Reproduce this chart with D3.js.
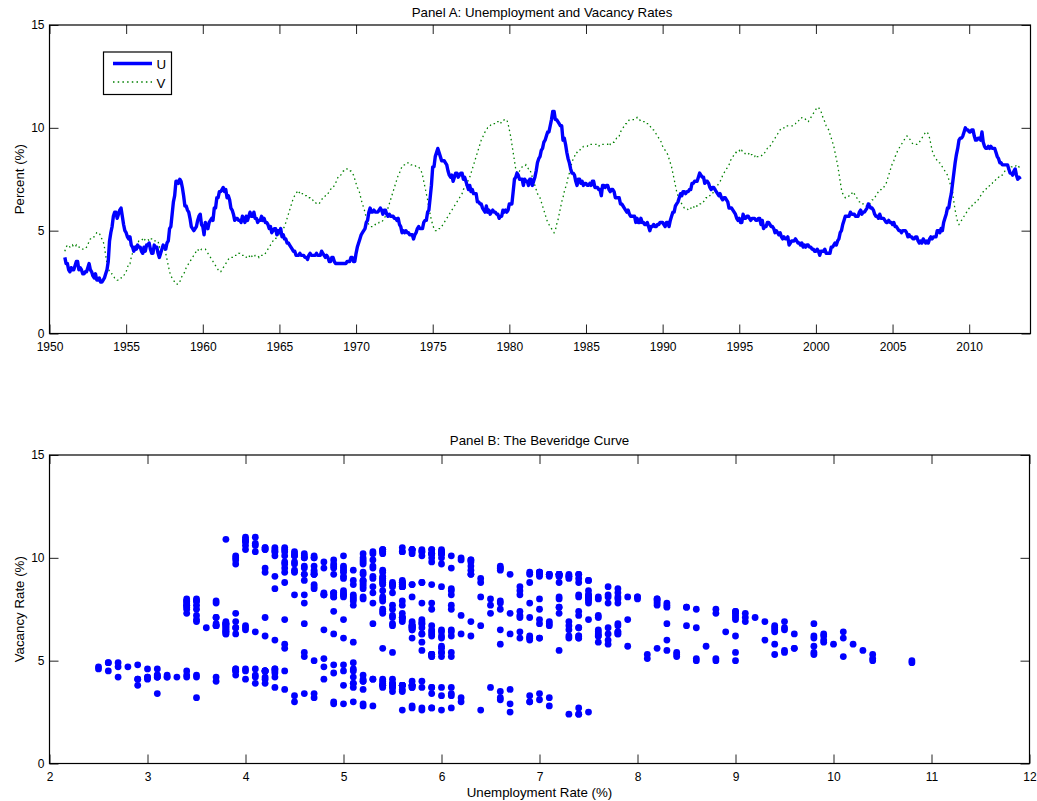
<!DOCTYPE html>
<html><head><meta charset="utf-8">
<script src="https://cdn.jsdelivr.net/npm/d3@7"></script>
<style>
body{margin:0;background:#fff}
text{font-family:"Liberation Sans",Arial,Helvetica,sans-serif;fill:#000}
</style>
</head><body>
<svg id="chart" width="1037" height="801"></svg>
<script>
// Monthly data, January 1951 onwards
const startYear = 1951;
const unemployment = [
3.7,3.4,3.4,3.1,3.0,3.2,3.1,3.1,3.3,3.5,3.5,3.1,
3.2,3.1,2.9,2.9,3.0,3.0,3.2,3.4,3.1,3.0,2.8,2.7,
2.9,2.6,2.6,2.7,2.5,2.5,2.6,2.7,2.9,3.1,3.5,4.5,
4.9,5.2,5.7,5.9,5.9,5.6,5.8,6.0,6.1,5.7,5.3,5.0,
4.9,4.7,4.6,4.7,4.3,4.2,4.0,4.2,4.1,4.3,4.2,4.2,
4.0,3.9,4.2,4.0,4.3,4.3,4.4,4.1,3.9,3.9,4.3,4.2,
4.2,3.9,3.7,3.9,4.1,4.3,4.2,4.1,4.4,4.5,5.1,5.2,
5.8,6.4,6.7,7.4,7.4,7.3,7.5,7.4,7.1,6.7,6.2,6.2,
6.0,5.9,5.6,5.2,5.1,5.0,5.1,5.2,5.5,5.7,5.8,5.3,
5.2,4.8,5.4,5.2,5.1,5.4,5.5,5.6,5.5,6.1,6.1,6.6,
6.6,6.9,6.9,7.0,7.1,6.9,7.0,6.6,6.7,6.5,6.1,6.0,
5.8,5.5,5.6,5.6,5.5,5.5,5.4,5.7,5.6,5.4,5.7,5.5,
5.7,5.9,5.7,5.7,5.9,5.6,5.6,5.4,5.5,5.5,5.7,5.5,
5.6,5.4,5.4,5.3,5.1,5.2,4.9,5.0,5.1,5.1,4.8,5.0,
4.9,5.1,4.7,4.8,4.6,4.6,4.4,4.4,4.3,4.2,4.1,4.0,
4.0,3.8,3.8,3.8,3.9,3.8,3.8,3.8,3.7,3.7,3.6,3.8,
3.9,3.8,3.8,3.8,3.8,3.9,3.8,3.8,3.8,4.0,3.9,3.8,
3.7,3.8,3.7,3.5,3.5,3.7,3.7,3.5,3.4,3.4,3.4,3.4,
3.4,3.4,3.4,3.4,3.4,3.5,3.5,3.5,3.7,3.7,3.5,3.5,
3.9,4.2,4.4,4.6,4.8,4.9,5.0,5.1,5.4,5.5,5.9,6.1,
5.9,5.9,6.0,5.9,5.9,5.9,6.0,6.1,6.0,5.8,6.0,6.0,
5.8,5.7,5.8,5.7,5.7,5.7,5.6,5.6,5.5,5.6,5.3,5.2,
4.9,5.0,4.9,5.0,4.9,4.9,4.8,4.8,4.8,4.6,4.8,4.9,
5.1,5.2,5.1,5.1,5.1,5.4,5.5,5.5,5.9,6.0,6.6,7.2,
8.1,8.1,8.6,8.8,9.0,8.8,8.6,8.4,8.4,8.4,8.3,8.2,
7.9,7.7,7.6,7.7,7.4,7.6,7.8,7.8,7.6,7.7,7.8,7.8,
7.5,7.6,7.4,7.2,7.0,7.2,6.9,7.0,6.8,6.8,6.8,6.4,
6.4,6.3,6.3,6.1,6.0,5.9,6.2,5.9,6.0,5.8,5.9,6.0,
5.9,5.9,5.8,5.8,5.6,5.7,5.7,6.0,5.9,6.0,5.9,6.0,
6.3,6.3,6.3,6.9,7.5,7.6,7.8,7.7,7.5,7.5,7.5,7.2,
7.5,7.4,7.4,7.2,7.5,7.5,7.2,7.4,7.6,7.9,8.3,8.5,
8.6,8.9,9.0,9.3,9.4,9.6,9.8,9.8,10.1,10.4,10.8,10.8,
10.4,10.4,10.3,10.2,10.1,10.1,9.4,9.5,9.2,8.8,8.5,8.3,
8.0,7.8,7.8,7.7,7.4,7.2,7.5,7.5,7.3,7.4,7.2,7.3,
7.3,7.2,7.2,7.3,7.2,7.4,7.4,7.1,7.1,7.1,7.0,7.0,
6.7,7.2,7.2,7.1,7.2,7.2,7.0,6.9,7.0,7.0,6.9,6.6,
6.6,6.6,6.6,6.3,6.3,6.2,6.1,6.0,5.9,6.0,5.8,5.7,
5.7,5.7,5.7,5.4,5.6,5.4,5.4,5.6,5.4,5.4,5.3,5.3,
5.4,5.2,5.0,5.2,5.2,5.3,5.2,5.2,5.3,5.3,5.4,5.4,
5.4,5.3,5.2,5.4,5.4,5.2,5.5,5.7,5.9,5.9,6.2,6.3,
6.4,6.6,6.8,6.7,6.9,6.9,6.8,6.9,6.9,7.0,7.0,7.3,
7.3,7.4,7.4,7.4,7.6,7.8,7.7,7.6,7.6,7.3,7.4,7.4,
7.3,7.1,7.0,7.1,7.1,7.0,6.9,6.8,6.7,6.8,6.6,6.5,
6.6,6.6,6.5,6.4,6.1,6.1,6.1,6.0,5.9,5.8,5.6,5.5,
5.6,5.4,5.4,5.8,5.6,5.6,5.7,5.7,5.6,5.5,5.6,5.6,
5.6,5.5,5.5,5.6,5.6,5.3,5.5,5.1,5.2,5.2,5.4,5.4,
5.3,5.2,5.2,5.1,4.9,5.0,4.9,4.8,4.9,4.7,4.6,4.7,
4.6,4.6,4.7,4.3,4.4,4.5,4.5,4.5,4.6,4.5,4.4,4.4,
4.3,4.4,4.2,4.3,4.2,4.3,4.3,4.2,4.2,4.1,4.1,4.0,
4.0,4.1,4.0,3.8,4.0,4.0,4.0,4.1,3.9,3.9,3.9,3.9,
4.2,4.2,4.3,4.4,4.3,4.5,4.6,4.9,5.0,5.3,5.5,5.7,
5.7,5.7,5.7,5.9,5.8,5.8,5.8,5.7,5.7,5.7,5.9,6.0,
5.8,5.9,5.9,6.0,6.1,6.3,6.2,6.1,6.1,6.0,5.8,5.7,
5.7,5.6,5.8,5.6,5.6,5.6,5.5,5.4,5.4,5.5,5.4,5.4,
5.3,5.4,5.2,5.2,5.1,5.0,5.0,4.9,5.0,5.0,5.0,4.9,
4.7,4.8,4.7,4.7,4.6,4.6,4.7,4.7,4.5,4.4,4.5,4.4,
4.6,4.5,4.4,4.5,4.4,4.6,4.7,4.6,4.7,4.7,4.7,5.0,
5.0,4.9,5.1,5.0,5.4,5.6,5.8,6.1,6.1,6.5,6.8,7.3,
7.8,8.3,8.7,9.0,9.4,9.5,9.5,9.6,9.8,10.0,9.9,9.9,
9.8,9.8,9.9,9.9,9.6,9.4,9.4,9.5,9.5,9.4,9.8,9.3,
9.1,9.0,9.0,9.1,9.0,9.1,9.0,9.0,9.0,8.8,8.6,8.5,
8.3,8.3,8.2,8.2,8.2,8.2,8.2,8.0,7.8,7.8,7.7,7.9,
8.0,7.7,7.5,7.6,7.5
];
const vacancy = [
4.0,4.2,4.3,4.3,4.2,4.2,4.3,4.2,4.2,4.3,4.2,4.2,
4.2,4.2,4.1,4.1,4.1,4.2,4.3,4.5,4.6,4.6,4.7,4.7,
4.8,4.9,4.9,4.9,4.7,4.6,4.5,4.2,3.8,3.4,3.2,3.0,
2.9,2.9,2.8,2.7,2.7,2.6,2.6,2.6,2.7,2.7,2.8,2.9,
3.0,3.2,3.4,3.4,3.7,3.9,4.1,4.2,4.3,4.4,4.5,4.5,
4.5,4.6,4.5,4.6,4.6,4.6,4.5,4.6,4.6,4.5,4.5,4.5,
4.5,4.5,4.2,4.3,4.2,4.2,4.1,3.9,3.6,3.3,3.0,2.8,
2.7,2.6,2.5,2.4,2.4,2.4,2.5,2.7,2.8,2.9,3.0,3.2,
3.3,3.4,3.5,3.6,3.7,3.8,3.9,4.0,4.1,4.0,4.0,4.1,
4.1,4.1,4.1,4.0,3.9,3.8,3.7,3.6,3.5,3.4,3.3,3.2,
3.1,3.0,3.0,3.1,3.2,3.3,3.4,3.5,3.6,3.7,3.7,3.7,
3.7,3.8,3.8,3.8,3.9,3.9,3.8,3.8,3.8,3.7,3.7,3.8,
3.8,3.7,3.8,3.7,3.7,3.8,3.8,3.8,3.7,3.8,3.8,3.8,
3.8,3.9,4.0,4.1,4.2,4.3,4.4,4.5,4.5,4.6,4.7,4.8,
4.8,4.9,5.0,5.1,5.2,5.4,5.6,5.8,6.0,6.2,6.4,6.6,
6.7,6.8,6.9,6.8,6.9,6.8,6.8,6.7,6.7,6.7,6.6,6.6,
6.6,6.5,6.5,6.4,6.4,6.3,6.3,6.3,6.4,6.5,6.6,6.6,
6.7,6.7,6.8,6.9,7.0,7.1,7.1,7.2,7.3,7.5,7.6,7.7,
7.7,7.8,7.9,7.9,8.0,8.0,7.9,7.9,7.9,7.8,7.7,7.5,
7.3,7.1,7.0,6.8,6.5,6.3,6.1,5.9,5.6,5.4,5.3,5.2,
5.2,5.2,5.2,5.3,5.3,5.3,5.4,5.4,5.4,5.5,5.6,5.7,
5.9,6.1,6.3,6.5,6.7,6.9,7.1,7.3,7.5,7.7,7.8,8.0,
8.1,8.2,8.2,8.2,8.3,8.3,8.3,8.2,8.2,8.2,8.2,8.1,
8.1,8.1,8.0,7.9,7.7,7.4,7.1,6.8,6.5,6.1,5.8,5.5,
5.3,5.1,5.0,5.0,5.0,5.1,5.1,5.2,5.3,5.4,5.5,5.6,
5.7,5.8,5.9,6.0,6.1,6.2,6.3,6.4,6.5,6.6,6.7,6.8,
7.0,7.1,7.2,7.3,7.5,7.6,7.8,8.0,8.2,8.4,8.6,8.8,
9.0,9.2,9.4,9.5,9.7,9.8,9.9,10.0,10.0,10.1,10.2,10.2,
10.2,10.2,10.3,10.3,10.3,10.2,10.3,10.3,10.4,10.4,10.4,10.2,
9.9,9.6,9.2,8.8,8.4,8.0,7.8,7.8,7.9,8.0,8.1,8.1,
8.1,8.2,8.1,8.0,8.0,7.8,7.6,7.4,7.2,7.0,6.8,6.7,
6.6,6.4,6.2,6.0,5.8,5.6,5.4,5.3,5.2,5.1,5.0,4.9,
5.0,5.3,5.5,5.8,6.1,6.4,6.6,6.9,7.1,7.3,7.6,7.8,
8.1,8.3,8.5,8.6,8.8,8.8,8.9,8.9,9.0,9.0,9.1,9.1,
9.1,9.1,9.2,9.2,9.2,9.2,9.2,9.2,9.2,9.1,9.1,9.2,
9.2,9.2,9.2,9.2,9.2,9.2,9.3,9.2,9.3,9.3,9.3,9.4,
9.5,9.5,9.6,9.8,9.9,10.0,10.1,10.2,10.2,10.3,10.4,10.4,
10.4,10.4,10.4,10.4,10.5,10.4,10.4,10.3,10.3,10.3,10.3,10.2,
10.2,10.2,10.1,10.0,9.9,9.9,9.8,9.7,9.6,9.5,9.4,9.3,
9.1,9.0,8.9,8.8,8.7,8.5,8.3,8.1,7.8,7.5,7.2,6.9,
6.7,6.5,6.4,6.3,6.2,6.1,6.1,6.1,6.0,6.1,6.1,6.1,
6.2,6.1,6.2,6.2,6.2,6.3,6.3,6.3,6.4,6.5,6.6,6.6,
6.7,6.7,6.8,6.8,6.9,7.0,7.1,7.2,7.3,7.4,7.5,7.7,
7.8,7.9,8.0,8.1,8.2,8.4,8.5,8.6,8.7,8.8,8.8,8.8,
8.9,8.8,8.9,8.8,8.8,8.7,8.7,8.7,8.8,8.7,8.7,8.6,
8.6,8.7,8.6,8.6,8.6,8.6,8.7,8.7,8.8,8.9,9.0,9.0,
9.1,9.2,9.3,9.4,9.5,9.6,9.7,9.8,9.9,10.0,10.0,10.0,
10.0,10.1,10.1,10.1,10.1,10.1,10.1,10.2,10.2,10.3,10.3,10.4,
10.4,10.5,10.5,10.5,10.4,10.3,10.3,10.4,10.5,10.6,10.7,10.8,
10.9,11.0,11.0,10.9,10.8,10.6,10.4,10.3,10.1,10.0,9.9,9.7,
9.5,9.3,9.1,8.8,8.5,8.2,7.8,7.4,7.0,6.8,6.7,6.6,
6.6,6.6,6.7,6.7,6.8,6.9,6.8,6.7,6.6,6.5,6.4,6.4,
6.3,6.3,6.2,6.2,6.2,6.2,6.3,6.4,6.5,6.5,6.6,6.7,
6.8,6.9,7.0,7.0,7.1,7.1,7.2,7.3,7.5,7.7,7.9,8.1,
8.3,8.4,8.6,8.7,8.9,9.0,9.1,9.2,9.3,9.4,9.5,9.6,
9.6,9.5,9.4,9.3,9.2,9.2,9.2,9.2,9.3,9.3,9.4,9.5,
9.6,9.7,9.8,9.8,9.7,9.5,9.2,8.9,8.7,8.6,8.5,8.4,
8.3,8.3,8.2,8.1,8.0,7.9,7.8,7.7,7.5,7.3,7.1,6.9,
6.4,6.0,5.7,5.4,5.3,5.4,5.5,5.6,5.7,5.8,5.9,6.0,
6.1,6.2,6.2,6.3,6.3,6.4,6.5,6.5,6.6,6.7,6.8,6.9,
6.9,7.0,7.1,7.1,7.2,7.3,7.3,7.4,7.4,7.5,7.5,7.6,
7.6,7.7,7.7,7.8,7.9,8.0,8.0,8.0,8.0,8.1,8.1,8.1,
8.1,8.2,8.2,8.1,8.2
];
const yearTicks = [1950,1955,1960,1965,1970,1975,1980,1985,1990,1995,2000,2005,2010];
const rateTicks = [0,5,10,15];
const uRateTicks = [2,3,4,5,6,7,8,9,10,11,12];
const legendLabels = ["U","V"];

const blue = "#0000ff", green = "#008000";
const labelSize = 13.3;
const svg = d3.select("#chart");
const n = Math.min(unemployment.length, vacancy.length);
const rows = d3.range(n).map(i => ({t: startYear + i/12, u: unemployment[i], v: vacancy[i]}));

function frame(g, x, y, xTicks, yTicks, w, h, fmtX) {
  const tk = 9;
  g.append("g").attr("transform", `translate(0,${h})`)
    .call(d3.axisBottom(x).tickValues(xTicks).tickFormat(fmtX).tickSizeInner(-tk).tickSizeOuter(0).tickPadding(9));
  g.append("g")
    .call(d3.axisTop(x).tickValues(xTicks).tickFormat("").tickSizeInner(-tk).tickSizeOuter(0));
  g.append("g")
    .call(d3.axisLeft(y).tickValues(yTicks).tickFormat(d3.format("d")).tickSizeInner(-tk).tickSizeOuter(0).tickPadding(5));
  g.append("g").attr("transform", `translate(${w},0)`)
    .call(d3.axisRight(y).tickValues(yTicks).tickFormat("").tickSizeInner(-tk).tickSizeOuter(0));
  g.selectAll(".domain").remove();
  g.selectAll(".tick line").attr("stroke", "#222").attr("stroke-width", 1);
  g.selectAll(".tick text").attr("font-size", 12).attr("fill", "#000")
    .style("font-family", '"Liberation Sans",Arial,sans-serif');
  g.append("rect").attr("x", 0).attr("y", 0).attr("width", w).attr("height", h)
    .attr("fill", "none").attr("stroke", "#000").attr("stroke-width", 1.2);
}

// Panel A
{
  const L = 49.5, T = 25, W = 981, H = 308.5;
  const g = svg.append("g").attr("transform", `translate(${L},${T})`);
  const x = d3.scaleLinear().domain([1950, 2014]).range([0, W]);
  const y = d3.scaleLinear().domain([0, 15]).range([H, 0]);
  const lineU = d3.line().x(d => x(d.t)).y(d => y(d.u));
  const lineV = d3.line().x(d => x(d.t)).y(d => y(d.v));
  g.append("path").datum(rows).attr("d", lineV).attr("fill", "none")
    .attr("stroke", green).attr("stroke-width", 1.3).attr("stroke-dasharray", "1.5,3.2");
  g.append("path").datum(rows).attr("d", lineU).attr("fill", "none")
    .attr("stroke", blue).attr("stroke-width", 3.4).attr("stroke-linejoin", "round");
  frame(g, x, y, yearTicks, rateTicks, W, H, d3.format("d"));
  // legend
  const lg = g.append("g").attr("transform", `translate(${103.5-L},${52-T})`);
  lg.append("rect").attr("width", 68).attr("height", 42.5).attr("fill", "#fff")
    .attr("stroke", "#000").attr("stroke-width", 1.2);
  lg.append("line").attr("x1", 9.5).attr("x2", 48.5).attr("y1", 11.5).attr("y2", 11.5)
    .attr("stroke", blue).attr("stroke-width", 3.4);
  lg.append("line").attr("x1", 9.5).attr("x2", 48.5).attr("y1", 30).attr("y2", 30)
    .attr("stroke", green).attr("stroke-width", 1.3).attr("stroke-dasharray", "1.5,3.2");
  lg.selectAll("text.lab").data(legendLabels).join("text").attr("class", "lab")
    .attr("x", 53).attr("y", (d, i) => 17 + i * 19).attr("font-size", labelSize).text(d => d);
  g.append("text").attr("x", W/2 + 2).attr("y", -8).attr("text-anchor", "middle")
    .attr("font-size", labelSize).text("Panel A: Unemployment and Vacancy Rates");
  g.append("text").attr("transform", `translate(${-25.5},${H/2}) rotate(-90)`)
    .attr("text-anchor", "middle").attr("font-size", labelSize).text("Percent (%)");
}

// Panel B
{
  const L = 49.5, T = 455, W = 980, H = 308.5;
  const g = svg.append("g").attr("transform", `translate(${L},${T})`);
  const x = d3.scaleLinear().domain([2, 12]).range([0, W]);
  const y = d3.scaleLinear().domain([0, 15]).range([H, 0]);
  g.selectAll("circle").data(rows).join("circle")
    .attr("cx", d => x(d.u)).attr("cy", d => y(d.v)).attr("r", 3.4).attr("fill", blue);
  frame(g, x, y, uRateTicks, rateTicks, W, H, d3.format("d"));
  g.append("text").attr("x", W/2).attr("y", -10).attr("text-anchor", "middle")
    .attr("font-size", labelSize).text("Panel B: The Beveridge Curve");
  g.append("text").attr("x", W/2).attr("y", H + 33).attr("text-anchor", "middle")
    .attr("font-size", labelSize).text("Unemployment Rate (%)");
  g.append("text").attr("transform", `translate(${-25.5},${H/2}) rotate(-90)`)
    .attr("text-anchor", "middle").attr("font-size", labelSize).text("Vacancy Rate (%)");
}
</script>
</body></html>
